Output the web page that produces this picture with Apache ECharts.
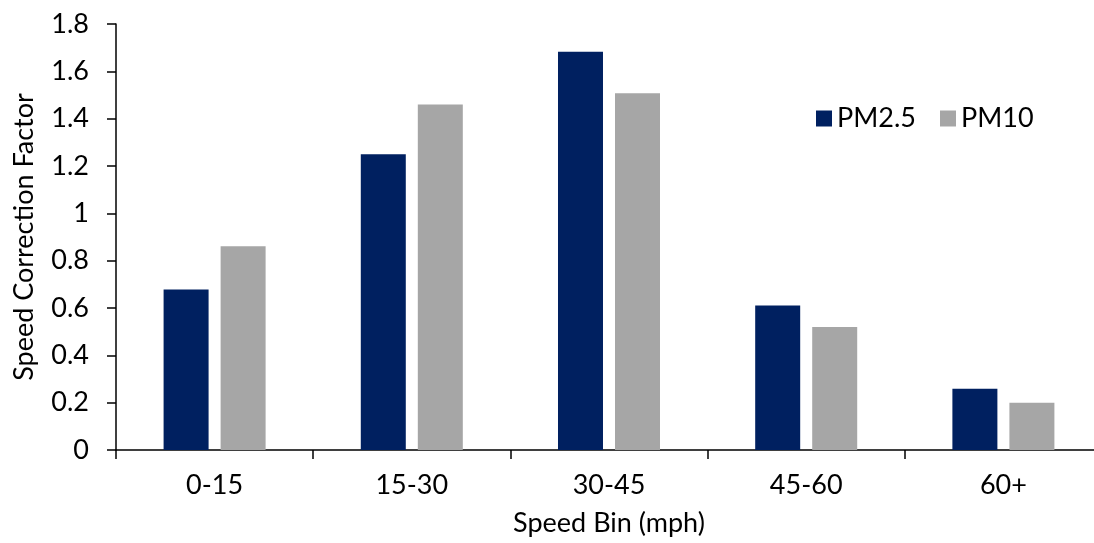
<!DOCTYPE html>
<html>
<head>
<meta charset="utf-8">
<script src="https://cdn.jsdelivr.net/npm/echarts@6/dist/echarts.min.js"></script>
<style>html,body{margin:0;padding:0;background:#fff;}#c{width:1094px;height:543px;}</style>
</head>
<body>
<div id="c"></div>
<script>
const categories = ['0-15', '15-30', '30-45', '45-60', '60+'];
const pm25 = [0.678, 1.25, 1.683, 0.611, 0.259];
const pm10 = [0.861, 1.46, 1.507, 0.52, 0.20];
const yTicks = [0, 0.2, 0.4, 0.6, 0.8, 1, 1.2, 1.4, 1.6, 1.8];

const FONT = 'Lato';
const FS = 27;
const chart = echarts.init(document.getElementById('c'));
chart.setOption({
  animation: false,
  backgroundColor: '#fff',
  textStyle: { fontFamily: FONT, color: '#000' },
  legend: {
    left: 811, top: 100,
    itemWidth: 16, itemHeight: 16, itemGap: 24,
    icon: 'rect',
    textStyle: { fontFamily: FONT, fontSize: FS, color: '#000', padding: [0, 0, 0, 0] },
    data: ['PM2.5', 'PM10']
  },
  grid: { left: 116, top: 24, width: 986, height: 426, containLabel: false, outerBoundsMode: 'none' },
  xAxis: {
    type: 'category',
    data: categories,
    name: 'Speed Bin (mph)',
    nameLocation: 'middle',
    nameGap: 60,
    nameTextStyle: { fontFamily: FONT, fontSize: FS, color: '#000' },
    axisLine: { lineStyle: { color: '#000', width: 1.5 } },
    axisTick: { show: true, length: 9, lineStyle: { color: '#000', width: 1.5 } },
    axisLabel: { fontFamily: FONT, fontSize: FS, color: '#000', margin: 22 },
    splitLine: { show: false }
  },
  yAxis: {
    type: 'value',
    min: 0, max: 1.8, interval: 0.2,
    name: 'Speed Correction Factor',
    nameLocation: 'middle',
    nameGap: 78,
    nameTextStyle: { fontFamily: FONT, fontSize: FS, color: '#000' },
    axisLine: { show: true, lineStyle: { color: '#000', width: 1.5 } },
    axisTick: { show: true, length: 9, lineStyle: { color: '#000', width: 1.5 } },
    axisLabel: {
      fontFamily: FONT, fontSize: FS, color: '#000', margin: 27,
      formatter: v => {
        const t = yTicks.find(x => Math.abs(x - v) < 1e-9);
        return t === undefined ? '' : String(t);
      }
    },
    splitLine: { show: false }
  },
  series: [
    { name: 'PM2.5', type: 'bar', data: pm25, barWidth: 45, barGap: '26.7%', itemStyle: { color: '#002060' } },
    { name: 'PM10', type: 'bar', data: pm10, barWidth: 45, itemStyle: { color: '#A6A6A6' } }
  ]
});
</script>
</body>
</html>
